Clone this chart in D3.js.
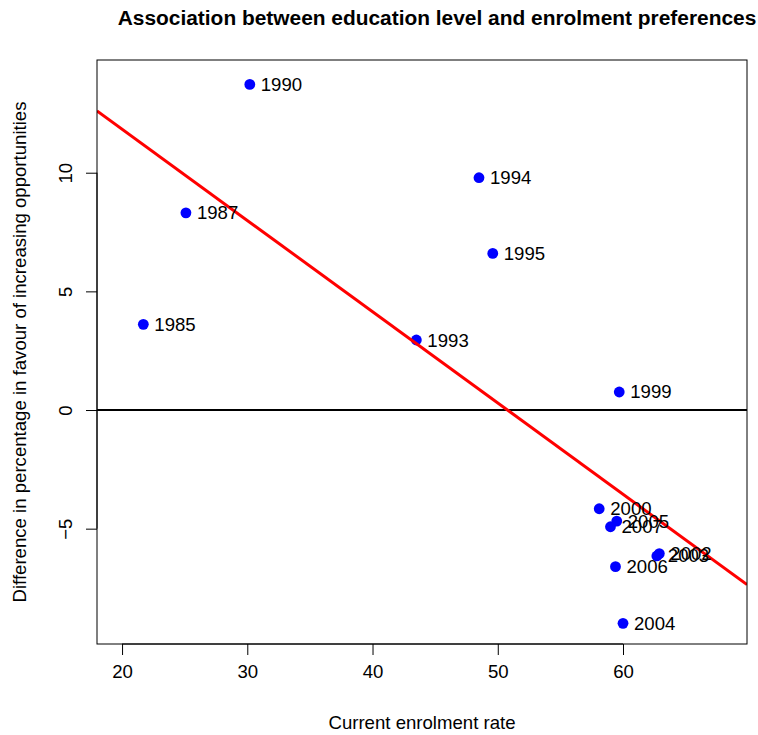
<!DOCTYPE html>
<html>
<head>
<meta charset="utf-8">
<script src="https://cdn.jsdelivr.net/npm/d3@7"></script>
<style>
  html, body { margin: 0; padding: 0; background: #fff; }
  svg text { font-family: "Liberation Sans", Arial, Helvetica, sans-serif; fill: #000; }
</style>
</head>
<body>
<svg id="chart" width="758" height="735"></svg>
<script>
// ---- data ----
const years      = [1985, 1987, 1990, 1993, 1994, 1995, 1999, 2000, 2002, 2003, 2004, 2005, 2006, 2007];
const enrolment  = [21.7, 25.1, 30.2, 43.5, 48.5, 49.6, 59.7, 58.1, 62.9, 62.7, 60.0, 59.5, 59.4, 59.0];
const difference = [3.61, 8.31, 13.72, 2.95, 9.79, 6.60, 0.76, -4.16, -6.05, -6.15, -8.99, -4.68, -6.60, -4.92];
const xTicks = [20, 30, 40, 50, 60];
const yTicks = [-5, 0, 5, 10];

const titleText = "Association between education level and enrolment preferences";
const xLabel = "Current enrolment rate";
const yLabel = "Difference in percentage in favour of increasing opportunities";

// ---- layout ----
const W = 758, H = 735;
const plot = { left: 97, right: 747, top: 60, bottom: 644 };
const FS = 18.6;

const svg = d3.select("#chart");

const x = d3.scaleLinear().domain([18.0, 69.9]).range([plot.left, plot.right]);
const y = d3.scaleLinear().domain([-9.86, 14.75]).range([plot.bottom, plot.top]);

// least squares fit
const n = years.length;
const mx = d3.mean(enrolment), my = d3.mean(difference);
let sxy = 0, sxx = 0;
for (let i = 0; i < n; i++) {
  sxy += (enrolment[i] - mx) * (difference[i] - my);
  sxx += (enrolment[i] - mx) ** 2;
}
const slope = sxy / sxx;
const intercept = my - slope * mx;

svg.append("defs").append("clipPath").attr("id", "clip")
  .append("rect")
  .attr("x", plot.left).attr("y", plot.top)
  .attr("width", plot.right - plot.left).attr("height", plot.bottom - plot.top);

const g = svg.append("g").attr("clip-path", "url(#clip)");

// zero line
g.append("line")
  .attr("x1", plot.left).attr("x2", plot.right)
  .attr("y1", y(0)).attr("y2", y(0))
  .attr("stroke", "#000").attr("stroke-width", 2);

// points
const pts = years.map((yr, i) => ({ yr, xv: enrolment[i], yv: difference[i] }));
g.selectAll("circle.pt").data(pts).enter().append("circle")
  .attr("class", "pt")
  .attr("cx", d => x(d.xv)).attr("cy", d => y(d.yv))
  .attr("r", 5.4).attr("fill", "#0000ff");

// regression line
const xd = x.domain();
g.append("line")
  .attr("x1", x(xd[0])).attr("y1", y(intercept + slope * xd[0]))
  .attr("x2", x(xd[1])).attr("y2", y(intercept + slope * xd[1]))
  .attr("stroke", "#ff0000").attr("stroke-width", 3);

// labels
svg.selectAll("text.lab").data(pts).enter().append("text")
  .attr("class", "lab")
  .attr("x", d => x(d.xv) + 11)
  .attr("y", d => y(d.yv))
  .attr("dy", "0.35em")
  .attr("font-size", FS)
  .text(d => d.yr);

// box
svg.append("rect")
  .attr("x", plot.left).attr("y", plot.top)
  .attr("width", plot.right - plot.left).attr("height", plot.bottom - plot.top)
  .attr("fill", "none").attr("stroke", "#000").attr("stroke-width", 1);

// x axis
const xAxis = d3.axisBottom(x).tickValues(xTicks).tickSize(11).tickPadding(10).tickFormat(d3.format("d"));
const gx = svg.append("g").attr("transform", `translate(0,${plot.bottom})`).call(xAxis);
gx.select(".domain").attr("d", `M${x(xTicks[0])},0H${x(xTicks[xTicks.length-1])}`).attr("stroke", "#000");
gx.selectAll("text").attr("font-size", FS).attr("font-family", "Liberation Sans, Arial, sans-serif");

// y axis
const yAxis = d3.axisLeft(y).tickValues(yTicks).tickSize(11).tickPadding(10)
  .tickFormat(d => d < 0 ? "\u2212" + Math.abs(d) : String(d));
const gy = svg.append("g").attr("transform", `translate(${plot.left},0)`).call(yAxis);
gy.select(".domain").attr("d", `M0,${y(yTicks[0])}V${y(yTicks[yTicks.length-1])}`).attr("stroke", "#000");
gy.selectAll(".tick text")
  .attr("font-size", FS).attr("font-family", "Liberation Sans, Arial, sans-serif")
  .attr("text-anchor", "middle").attr("x", 0).attr("dy", 0)
  .attr("transform", "translate(-25,0) rotate(-90)");

// title
svg.append("text")
  .attr("x", 437).attr("y", 25)
  .attr("text-anchor", "middle")
  .attr("font-size", 20.9).attr("font-weight", "bold")
  .text(titleText);

// axis titles
svg.append("text")
  .attr("x", (plot.left + plot.right) / 2).attr("y", 729)
  .attr("text-anchor", "middle").attr("font-size", FS)
  .text(xLabel);

svg.append("text")
  .attr("transform", `translate(26,${(plot.top + plot.bottom) / 2}) rotate(-90)`)
  .attr("text-anchor", "middle").attr("font-size", FS)
  .text(yLabel);
</script>
</body>
</html>
